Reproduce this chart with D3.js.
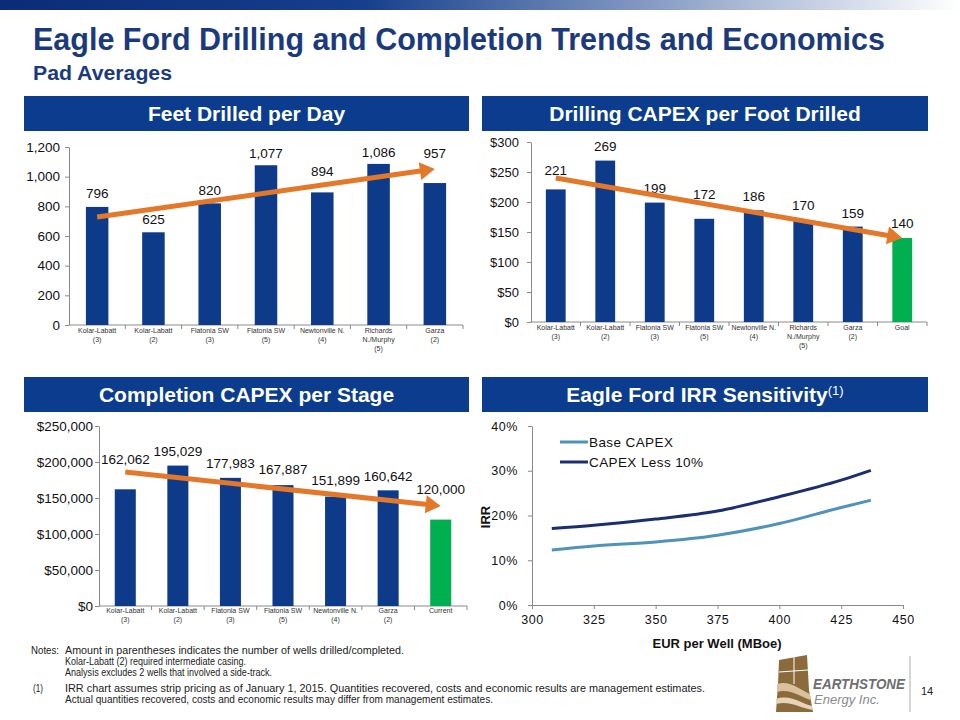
<!DOCTYPE html>
<html><head><meta charset="utf-8">
<script src="https://cdn.jsdelivr.net/npm/d3@7"></script>
<style>body{margin:0;background:#fff}svg{display:block}</style>
</head><body>
<svg id="c" width="960" height="720"></svg>
<script>
// ---------- DATA ----------
const drillCats = [["Kolar-Labatt","(3)"],["Kolar-Labatt","(2)"],["Flatonia SW","(3)"],["Flatonia SW","(5)"],["Newtonville N.","(4)"],["Richards","N./Murphy","(5)"],["Garza","(2)"]];
const feetPerDay = [796,625,820,1077,894,1086,957];
const feetTrend = [728,1052];
const feetTicks = [0,200,400,600,800,1000,1200];

const capexCats = [["Kolar-Labatt","(3)"],["Kolar-Labatt","(2)"],["Flatonia SW","(3)"],["Flatonia SW","(5)"],["Newtonville N.","(4)"],["Richards","N./Murphy","(5)"],["Garza","(2)"],["Goal"]];
const capexPerFoot = [221,269,199,172,186,170,159,140];
const capexTrend = [240,140];
const capexTicks = [0,50,100,150,200,250,300];

const complCats = [["Kolar-Labatt","(3)"],["Kolar-Labatt","(2)"],["Flatonia SW","(3)"],["Flatonia SW","(5)"],["Newtonville N.","(4)"],["Garza","(2)"],["Current"]];
const complCapex = [162062,195029,177983,167887,151899,160642,120000];
const complTrend = [186000,139000];
const complTicks = [0,50000,100000,150000,200000,250000];

const eurMboe = [308,325,350,375,400,425,437];
const irrBase = [12.3,13.2,14.1,15.6,18.2,21.8,23.4];
const irrLess10 = [17.1,17.8,19.2,21.0,24.2,27.9,30.1];
const eurTicks = [300,325,350,375,400,425,450];
const irrTicks = [0,10,20,30,40];
const seriesNames = ["Base CAPEX","CAPEX Less 10%"];

// label lift above bar tops (layout)
const feetLift = [9,8,8,7,16,7,25];
const capexLift = [14,10,10,20,9,10,9,10];
const complLift = [25,10,10,11,12,9,26];

// ---------- STYLE ----------
const SANS = "'Liberation Sans', Arial, sans-serif";
const NAVY = "#0E3A8A", GREEN = "#00B050", ORANGE = "#E4782A", AXIS = "#8a8a8a", HEAD = "#0B3C8E", TITLE = "#1B3A7E";

const svg = d3.select("#c");
const defs = svg.append("defs");
const grad = defs.append("linearGradient").attr("id","topg").attr("x1","0").attr("x2","1").attr("y1","0").attr("y2","0");
grad.append("stop").attr("offset","0").attr("stop-color","#0b2c78");
grad.append("stop").attr("offset","0.38").attr("stop-color","#163f8c");
grad.append("stop").attr("offset","1").attr("stop-color","#ffffff");
svg.append("rect").attr("x",0).attr("y",0).attr("width",960).attr("height",10).attr("fill","url(#topg)");

svg.append("text").attr("x",33).attr("y",50).attr("font-family",SANS).attr("font-weight","bold")
  .attr("font-size",31).attr("fill",TITLE).attr("textLength",852).attr("lengthAdjust","spacingAndGlyphs")
  .text("Eagle Ford Drilling and Completion Trends and Economics");
svg.append("text").attr("x",33).attr("y",80).attr("font-family",SANS).attr("font-weight","bold")
  .attr("font-size",20).attr("fill",TITLE).attr("textLength",139).attr("lengthAdjust","spacingAndGlyphs").text("Pad Averages");

function header(x0,x1,y0,y1,label,sup){
  svg.append("rect").attr("x",x0).attr("y",y0).attr("width",x1-x0).attr("height",y1-y0).attr("fill",HEAD);
  const t = svg.append("text").attr("x",(x0+x1)/2).attr("y",y0+25).attr("text-anchor","middle")
    .attr("font-family",SANS).attr("font-weight","bold").attr("font-size",21).attr("fill","#fff").text(label);
  if(sup){ t.append("tspan").attr("font-size",13).attr("font-weight","normal").attr("dy",-7).text(sup); }
}
header(24,469,96,131,"Feet Drilled  per Day");
header(482,928,96,131,"Drilling  CAPEX per Foot Drilled");
header(24,469,377,412,"Completion CAPEX per Stage");
header(482,928,377,412,"Eagle Ford IRR Sensitivity","(1)");

function arrow(g,x1,y1,x2,y2){
  const dx=x2-x1, dy=y2-y1, L=Math.hypot(dx,dy), ux=dx/L, uy=dy/L, hl=15, hw=9;
  const bx=x2-ux*hl, by=y2-uy*hl;
  g.append("line").attr("x1",x1).attr("y1",y1).attr("x2",bx+ux*2).attr("y2",by+uy*2)
    .attr("stroke",ORANGE).attr("stroke-width",5);
  g.append("path").attr("d",`M${x2},${y2}L${bx-uy*hw},${by+ux*hw}L${bx+uy*hw},${by-ux*hw}Z`).attr("fill",ORANGE);
}

function barChart(o){
  const g = svg.append("g");
  const x = d3.scaleBand().domain(d3.range(o.cats.length)).range([o.left,o.right]).paddingInner(0.6).paddingOuter(0.3);
  const y = d3.scaleLinear().domain([0,o.max]).range([o.bottom,o.top]);
  const ya = g.append("g").attr("transform",`translate(${o.left},0)`)
    .call(d3.axisLeft(y).tickValues(o.ticks).tickFormat(o.fmt).tickSize(4).tickSizeOuter(0).tickPadding(o.pad));
  ya.select(".domain").attr("stroke",AXIS);
  ya.selectAll(".tick line").attr("stroke",AXIS);
  ya.selectAll(".tick text").attr("font-family",SANS).attr("font-size",o.fs||13).attr("fill","#111");
  g.append("line").attr("x1",o.left).attr("x2",o.right).attr("y1",o.bottom).attr("y2",o.bottom).attr("stroke",AXIS);
  const step = x.step();
  d3.range(1,o.cats.length+1).forEach(i=>{
    g.append("line").attr("x1",o.left+i*step).attr("x2",o.left+i*step).attr("y1",o.bottom).attr("y2",o.bottom+4).attr("stroke",AXIS);
  });
  g.selectAll("rect.bar").data(o.vals).join("rect").attr("class","bar")
    .attr("x",(d,i)=>x(i)).attr("width",x.bandwidth())
    .attr("y",d=>y(d)).attr("height",d=>o.bottom-y(d))
    .attr("fill",(d,i)=>o.green===i?GREEN:NAVY);
  g.selectAll("text.val").data(o.vals).join("text").attr("class","val")
    .attr("x",(d,i)=>x(i)+x.bandwidth()/2).attr("y",(d,i)=>y(d)-o.lift[i])
    .attr("text-anchor","middle").attr("font-family",SANS).attr("font-size",13.5).attr("fill","#111")
    .text(d=>d3.format(",")(d));
  o.cats.forEach((c,i)=>{
    const t = g.append("text").attr("text-anchor","middle").attr("font-family",SANS).attr("font-size",7).attr("fill","#333");
    c.forEach((line,j)=>t.append("tspan").attr("x",x(i)+x.bandwidth()/2).attr("y",o.bottom+o.catY+j*9).text(line));
  });
  const n=o.cats.length;
  arrow(g, x(0)+x.bandwidth()/2, y(o.trend[0]), x(n-1)+x.bandwidth()/2, y(o.trend[1]));
}

barChart({left:69,right:463,bottom:325,top:147,cats:drillCats,vals:feetPerDay,max:1200,ticks:feetTicks,
  fmt:d3.format(","),pad:5,lift:feetLift,trend:feetTrend,green:-1,catY:8,fs:13.5});
barChart({left:531,right:927,bottom:322,top:142,cats:capexCats,vals:capexPerFoot,max:300,ticks:capexTicks,
  fmt:d=>"$"+d,pad:8,lift:capexLift,trend:capexTrend,green:7,catY:8,fs:13});
barChart({left:99,right:467,bottom:606,top:426,cats:complCats,vals:complCapex,max:250000,ticks:complTicks,
  fmt:d=>"$"+d3.format(",")(d),pad:2,lift:complLift,trend:complTrend,green:6,catY:7,fs:13.5});

// ---------- IRR line chart ----------
(function(){
  const g = svg.append("g");
  const x = d3.scaleLinear().domain([300,450]).range([532,903]);
  const y = d3.scaleLinear().domain([0,40]).range([605,426]);
  const ya = g.append("g").attr("transform","translate(532,0)")
    .call(d3.axisLeft(y).tickValues(irrTicks).tickFormat(d=>d+"%").tickSize(4).tickSizeOuter(0).tickPadding(10));
  const xa = g.append("g").attr("transform","translate(0,605)")
    .call(d3.axisBottom(x).tickValues(eurTicks).tickFormat(d3.format("d")).tickSize(4).tickSizeOuter(0).tickPadding(6));
  [ya,xa].forEach(a=>{
    a.select(".domain").attr("stroke",AXIS);
    a.selectAll(".tick line").attr("stroke",AXIS);
    a.selectAll(".tick text").attr("font-family",SANS).attr("font-size",12.5).attr("fill","#111").attr("letter-spacing",0.6);
  });
  const line = d3.line().x((d,i)=>x(eurMboe[i])).y(d=>y(d)).curve(d3.curveMonotoneX);
  const cols = ["#4F93B8","#1B2F70"];
  [irrBase,irrLess10].forEach((s,k)=>{
    g.append("path").attr("d",line(s)).attr("fill","none").attr("stroke",cols[k]).attr("stroke-width",3);
    g.append("line").attr("x1",560).attr("x2",588).attr("y1",442+k*20).attr("y2",442+k*20).attr("stroke",cols[k]).attr("stroke-width",3);
    g.append("text").attr("x",589).attr("y",447+k*20).attr("font-family",SANS).attr("font-size",13.5).attr("fill","#111")
      .attr("letter-spacing",0.4).text(seriesNames[k]);
  });
  g.append("text").attr("transform","translate(490,517) rotate(-90)").attr("text-anchor","middle")
    .attr("font-family",SANS).attr("font-weight","bold").attr("font-size",13).attr("fill","#111").text("IRR");
  g.append("text").attr("x",717).attr("y",648).attr("text-anchor","middle")
    .attr("font-family",SANS).attr("font-weight","bold").attr("font-size",13).attr("fill","#111").text("EUR  per Well (MBoe)");
})();

// ---------- Notes ----------
const notes = [
  [31,654,28,"Notes:"],[65,654,339,"Amount in parentheses indicates the number of wells drilled/completed."],
  [65,665,181,"Kolar-Labatt (2) required intermediate casing."],
  [65,676,207,"Analysis excludes 2 wells that involved a side-track."],
  [33,692,10,"(1)"],[65,692,640,"IRR chart assumes strip pricing as of January 1, 2015. Quantities recovered, costs and economic results are management estimates."],
  [65,703,428,"Actual quantities recovered, costs and economic results may differ from management estimates."]
];
notes.forEach(n=>svg.append("text").attr("x",n[0]).attr("y",n[1]).attr("font-family",SANS).attr("font-size",10.5)
  .attr("fill","#222").attr("textLength",n[2]).attr("lengthAdjust","spacingAndGlyphs").text(n[3]));

// ---------- Logo ----------
const lg = svg.append("g");
lg.append("path").attr("d","M779,660 L807,655 L809,690 L813,712 L776,712 L778,684 Z").attr("fill","#8B6A3C");
lg.append("path").attr("d","M777,684 C790,680 800,690 810,694 L811,700 C800,697 790,688 777,692 Z").attr("fill","#D8C19C");
lg.append("path").attr("d","M776,699 C790,694 800,703 812,706 L813,710 C800,708 790,700 776,704 Z").attr("fill","#E5D5B8");
lg.append("line").attr("x1",794).attr("x2",794).attr("y1",657).attr("y2",684).attr("stroke","#fff").attr("stroke-width",1);
lg.append("line").attr("x1",779).attr("x2",808).attr("y1",672).attr("y2",670).attr("stroke","#fff").attr("stroke-width",1);
lg.append("text").attr("x",813).attr("y",689).attr("font-family",SANS).attr("font-weight","bold").attr("font-style","italic")
  .attr("font-size",14).attr("fill","#6D6E71").attr("textLength",92).attr("lengthAdjust","spacingAndGlyphs").text("EARTHSTONE");
lg.append("text").attr("x",814).attr("y",704).attr("font-family",SANS).attr("font-style","italic")
  .attr("font-size",13).attr("fill","#8A8A8A").text("Energy Inc.");
lg.append("line").attr("x1",910).attr("x2",910).attr("y1",656).attr("y2",712).attr("stroke","#c8c8c8").attr("stroke-width",1.5);
svg.append("text").attr("x",921).attr("y",695).attr("font-family",SANS).attr("font-size",11).attr("fill","#222").text("14");
</script>
</body></html>
